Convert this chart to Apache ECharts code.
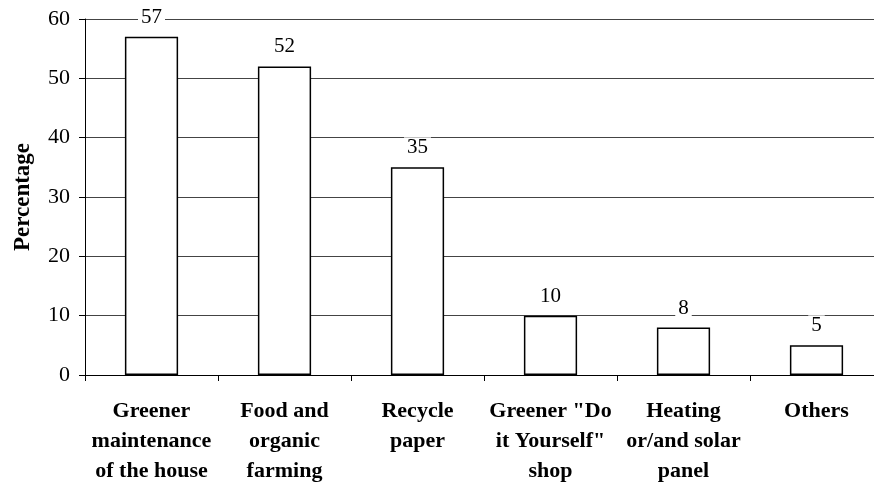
<!DOCTYPE html>
<html>
<head>
<meta charset="utf-8">
<script src="https://cdn.jsdelivr.net/npm/echarts@6/dist/echarts.min.js"></script>
<style>
  html, body { margin: 0; padding: 0; background: #fff; overflow: hidden; }
  /* The plot runs slightly past the right edge of the page, so the canvas is wider than the view */
  #chart { width: 883px; height: 484px; }
</style>
</head>
<body>
<div id="chart"></div>
<script>
// Green activities and their share of respondents
const categories = [
  'Greener\nmaintenance\nof the house',
  'Food and\norganic\nfarming',
  'Recycle\npaper',
  'Greener "Do\nit Yourself"\nshop',
  'Heating\nor/and solar\npanel',
  'Others'
];
const percentages = [57, 52, 35, 10, 8, 5];
const yTicks = [0, 10, 20, 30, 40, 50, 60];

const serif = '"Liberation Serif", "Times New Roman", serif';

const chart = echarts.init(document.getElementById('chart'));
chart.setOption({
  animation: false,
  backgroundColor: '#fff',
  grid: { left: 85, top: 19, right: 0, bottom: 109, containLabel: false, outerBoundsMode: 'none' },
  xAxis: {
    type: 'category',
    data: categories,
    boundaryGap: true,
    axisLine: { show: true, lineStyle: { color: '#000', width: 1 } },
    axisTick: { show: true, length: 6, lineStyle: { color: '#000' }, alignWithLabel: false },
    axisLabel: {
      interval: 0,
      margin: 21,
      fontFamily: serif,
      fontWeight: 'bold',
      fontSize: 22,
      lineHeight: 30,
      color: '#000'
    },
    splitLine: { show: false }
  },
  yAxis: {
    type: 'value',
    min: yTicks[0],
    max: yTicks[yTicks.length - 1],
    interval: 10,
    name: 'Percentage',
    nameLocation: 'middle',
    nameGap: 50,
    nameRotate: 90,
    nameTextStyle: { fontFamily: serif, fontWeight: 'bold', fontSize: 23, color: '#000' },
    axisLine: { show: true, lineStyle: { color: '#000', width: 1 } },
    axisTick: { show: true, length: 6, lineStyle: { color: '#000' } },
    axisLabel: { margin: 15, fontFamily: serif, fontSize: 22, color: '#000' },
    splitLine: { show: true, lineStyle: { color: '#444', width: 1 } }
  },
  series: [{
    type: 'bar',
    data: percentages,
    barWidth: '40%',
    itemStyle: { color: '#fff', borderColor: '#000', borderWidth: 1.5 },
    label: {
      show: true,
      position: 'top',
      distance: 9,
      fontFamily: serif,
      fontSize: 21,
      color: '#000',
      backgroundColor: '#fff',
      padding: [0, 3]
    }
  }]
});
</script>
</body>
</html>
